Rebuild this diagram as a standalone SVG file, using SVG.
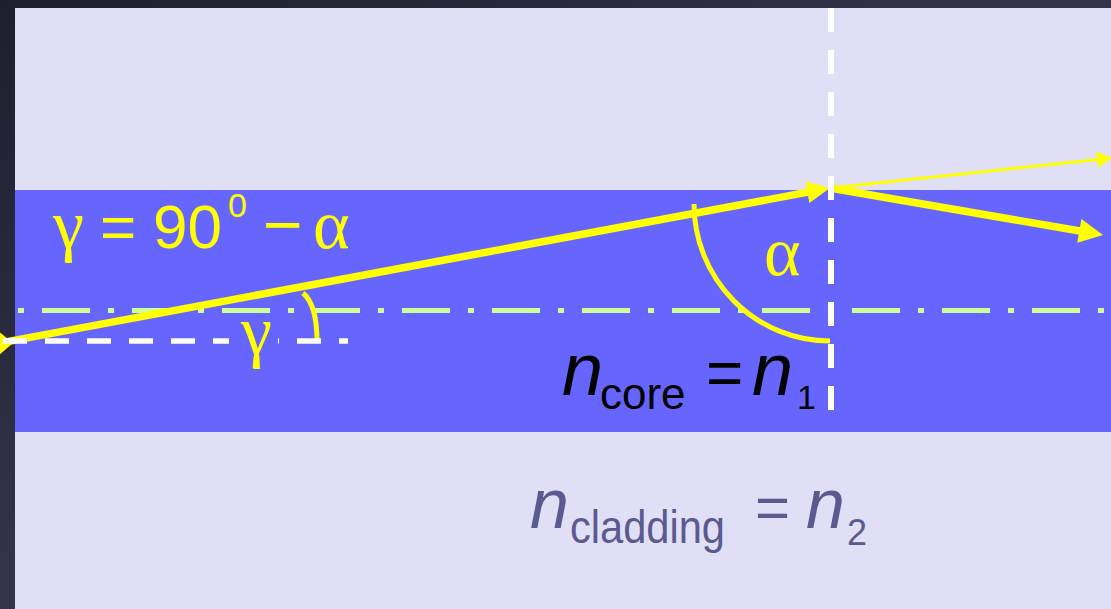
<svg xmlns="http://www.w3.org/2000/svg" width="1111" height="609" viewBox="0 0 1111 609">
  <defs>
    <linearGradient id="bgGrad" x1="0" y1="0" x2="1" y2="1">
      <stop offset="0" stop-color="#1e1e2e"/>
      <stop offset="1" stop-color="#4a4a6a"/>
    </linearGradient>
    <style>
      .ray { stroke: #ffff00; fill: none; stroke-linecap: butt; }
      .head { fill: #ffff00; stroke: none; }
      .arc { stroke: #ffff00; stroke-width: 5; fill: none; }
      .white-dash { stroke: #ffffff; fill: none; stroke-dasharray: 24 18; }
      .axis { stroke: #ccff99; stroke-width: 5; fill: none; stroke-dasharray: 48 18 6 18; }
      .greek { font-family: "Liberation Serif", "DejaVu Serif", serif; fill: #ffff00; }
      .yel { font-family: "Liberation Sans", Arial, sans-serif; fill: #ffff00; }
      .core { font-family: "Liberation Sans", Arial, sans-serif; fill: #000000; }
      .clad { font-family: "Liberation Sans", Arial, sans-serif; fill: #5a5a90; }
      .it { font-style: italic; }
    </style>
  </defs>

  <!-- background -->
  <rect x="0" y="0" width="1111" height="609" fill="url(#bgGrad)"/>
  <rect id="cladding" x="15" y="8" width="1096" height="601" fill="#e0dff5"/>
  <rect id="core" x="15" y="190" width="1096" height="242" fill="#6666ff"/>

  <!-- fibre axis -->
  <line id="axis" class="axis" x1="-48" y1="310.5" x2="1111" y2="310.5"/>

  <g id="connectors">
    <!-- incident ray -->
    <line class="ray" stroke-width="7.5" x1="-10" y1="344.9" x2="808" y2="192.1"/>
    <polygon class="head" points="830,188 809.4,203.0 805.4,181.4"/>
    <!-- incoming arrow tip at left edge -->
    <polygon class="head" points="-2,331 13,343 -2,356"/>
    <!-- reflected ray -->
    <line class="ray" stroke-width="7.5" x1="830" y1="188" x2="1080" y2="231"/>
    <polygon class="head" points="1103,235 1077.3,242.8 1081.4,219.1"/>
    <!-- refracted ray -->
    <line class="ray" stroke-width="3" x1="830" y1="188" x2="1098" y2="159.5"/>
    <polygon class="head" points="1112,158 1097.9,167.5 1096.2,151.6"/>
  </g>

  <g id="angles">
    <path id="alpha-arc" class="arc" d="M694,204 A136,137 0 0 0 830,341"/>
    <path id="gamma-arc" class="arc" d="M303,293 Q317,305 317,341"/>
  </g>

  <g id="guides">
    <line id="normal" class="white-dash" stroke-width="6" x1="831" y1="8" x2="831" y2="412"/>
    <line id="horizontal" class="white-dash" stroke-width="5.5" x1="3" y1="341" x2="348" y2="341"/>
  </g>

  <g id="formula">
    <text class="greek" x="53" y="248" font-size="70">γ</text>
    <text class="yel" x="100" y="248" font-size="62">=</text>
    <text class="yel" x="153" y="248" font-size="62">90</text>
    <text class="yel" x="228" y="217" font-size="34">0</text>
    <text class="yel" x="263" y="248" font-size="68">−</text>
    <text class="greek" x="313" y="248" font-size="70">α</text>
  </g>

  <g id="alpha-label">
    <text class="greek" x="764" y="275" font-size="70">α</text>
  </g>

  <g id="gamma-label">
    <rect x="229" y="318" width="49" height="54" fill="#6666ff"/>
    <text class="greek" x="241" y="354" font-size="70">γ</text>
  </g>

  <g id="core-label">
    <text class="core it" x="562" y="395" font-size="74">n</text>
    <text class="core" x="600" y="409" font-size="44">core</text>
    <text class="core" x="706" y="395" font-size="64">=</text>
    <text class="core it" x="752" y="395" font-size="74">n</text>
    <text class="core" x="797" y="409" font-size="34">1</text>
  </g>

  <g id="cladding-label">
    <text class="clad it" x="530" y="528" font-size="70">n</text>
    <text class="clad" x="570" y="543" font-size="46" textLength="155" lengthAdjust="spacingAndGlyphs">cladding</text>
    <text class="clad" x="755" y="528" font-size="60">=</text>
    <text class="clad it" x="806" y="528" font-size="70">n</text>
    <text class="clad" x="847" y="545" font-size="36">2</text>
  </g>
</svg>
